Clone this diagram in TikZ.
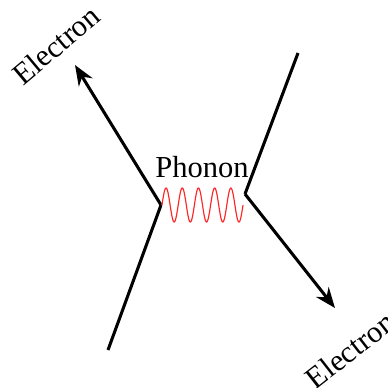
\documentclass[tikz,border=0pt]{standalone}
\usepackage{fontspec}
\setmainfont{Liberation Serif}
\usetikzlibrary{arrows.meta}

\tikzset{
  electron/.style={line width=1.05pt},
  phonon/.style={red!80!pink,line width=0.4pt},
  lbl/.style={inner sep=0pt,font=\fontsize{10.5}{12}\selectfont}
}

\begin{document}
\begin{tikzpicture}[x=0.344pt,y=-0.344pt,>={Stealth[length=7pt,width=5.5pt]}]
\useasboundingbox (0,0) rectangle (388,387);
\coordinate (A) at (161,205);
\coordinate (B) at (245,194);
\coordinate (inL) at (108,350);
\coordinate (outL) at (75,65);
\coordinate (inR) at (298,53);
\coordinate (outR) at (335,308);
\node[lbl,rotate=40] (eL) at (56,45) {Electron};
\node[lbl,rotate=38] (eR) at (350,350) {Electron};
\node[lbl] (ph) at (202,167) {Phonon};
\draw[electron](inL)--(A);
\draw[electron,->](A)--(outL);
\draw[electron](inR)--(B);
\draw[electron,->](B)--(outR);
% phonon wave between the two vertices
\draw[phonon] plot[domain=0:5,samples=201,smooth] ({162+16.2*\x},{205-17*sin(360*\x)});
\end{tikzpicture}
\end{document}
